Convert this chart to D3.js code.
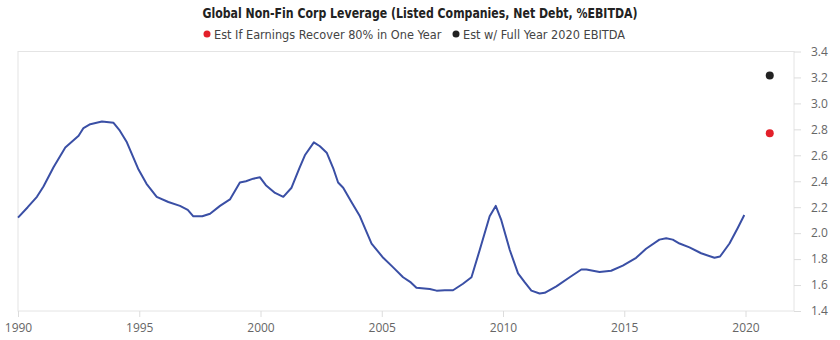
<!DOCTYPE html>
<html><head>
<meta charset="utf-8">
<script src="https://cdn.jsdelivr.net/npm/d3@7"></script>
<style>
  body { margin: 0; background: #fff; }
  .frame { fill: none; stroke: #e4e4e4; stroke-width: 1; }
  .axis .domain { stroke: none; }
  .axis line { stroke: #dcdcdc; }
  .axis text { font-family: "Open Sans", sans-serif; font-size: 12px; fill: #666; }
  .title { font-family: "Liberation Sans Narrow", "DejaVu Sans Condensed", sans-serif; font-weight: bold; font-size: 13.5px; fill: #222; }
  .legend text { font-family: "Liberation Sans Narrow", "DejaVu Sans Condensed", sans-serif; font-size: 12.6px; fill: #444; }
</style>
</head>
<body>
<svg id="chart" width="840" height="340"></svg>
<script>
// leverage series
const years = [1990.0, 1990.4, 1990.78, 1991.05, 1991.47, 1991.95, 1992.5, 1992.7, 1992.98, 1993.46,
  1993.94, 1994.2, 1994.49, 1994.97, 1995.3, 1995.72, 1996.2, 1996.68, 1997.0, 1997.23,
  1997.6, 1997.92, 1998.33, 1998.74, 1999.15, 1999.4, 1999.7, 1999.98, 2000.22, 2000.6,
  2000.94, 2001.28, 2001.6, 2001.83, 2002.2, 2002.45, 2002.73, 2003.0, 2003.2, 2003.41,
  2003.75, 2004.1, 2004.35, 2004.58, 2005.06, 2005.45, 2005.88, 2006.2, 2006.43, 2006.98,
  2007.26, 2007.6, 2007.94, 2008.35, 2008.7, 2009.04, 2009.45, 2009.7, 2009.93, 2010.28,
  2010.62, 2010.9, 2011.17, 2011.51, 2011.72, 2012.2, 2012.75, 2013.23, 2013.44, 2013.98,
  2014.46, 2014.94, 2015.49, 2015.9, 2016.45, 2016.73, 2017.0, 2017.28, 2017.69, 2018.17,
  2018.72, 2018.95, 2019.34, 2019.68, 2019.95];
const leverage = [2.12, 2.20, 2.28, 2.36, 2.51, 2.66, 2.75, 2.81, 2.84, 2.86,
  2.85, 2.79, 2.70, 2.49, 2.38, 2.28, 2.24, 2.21, 2.18, 2.13,
  2.13, 2.15, 2.21, 2.26, 2.39, 2.40, 2.42, 2.43, 2.37, 2.31,
  2.28, 2.35, 2.50, 2.60, 2.70, 2.67, 2.62, 2.50, 2.39, 2.35,
  2.24, 2.13, 2.02, 1.92, 1.81, 1.74, 1.66, 1.62, 1.58, 1.57,
  1.557, 1.56, 1.56, 1.61, 1.66, 1.87, 2.13, 2.21, 2.10, 1.87,
  1.69, 1.62, 1.557, 1.535, 1.54, 1.59, 1.66, 1.72, 1.72, 1.70,
  1.71, 1.75, 1.81, 1.88, 1.95, 1.96, 1.95, 1.92, 1.89, 1.845,
  1.81, 1.82, 1.92, 2.04, 2.14];

// 2021 estimates
const estLabels = ["Est If Earnings Recover 80% in One Year", "Est w/ Full Year 2020 EBITDA"];
const estYears = [2021, 2021];
const estValues = [2.77, 3.215];
const estColors = ["#e3202a", "#222222"];

const xTicks = [1990, 1995, 2000, 2005, 2010, 2015, 2020];
const yTicks = [1.4, 1.6, 1.8, 2.0, 2.2, 2.4, 2.6, 2.8, 3.0, 3.2, 3.4];

const titleText = "Global Non-Fin Corp Leverage (Listed Companies, Net Debt, %EBITDA)";

let svg = d3.select("#chart");
let margin = { top: 51.5, right: 46, bottom: 29, left: 18 };
let width = +svg.attr("width");
let height = +svg.attr("height");

const x = d3.scaleLinear().domain([1990, 2022]).range([margin.left, width - margin.right]);
const y = d3.scaleLinear().domain([1.4, 3.4]).range([height - margin.bottom, margin.top]);

// frame
svg.append("rect").attr("class", "frame")
  .attr("x", margin.left).attr("y", margin.top)
  .attr("width", width - margin.right - margin.left)
  .attr("height", height - margin.bottom - margin.top);

// axes
svg.append("g").attr("class", "axis")
  .attr("transform", "translate(0," + (height - margin.bottom) + ")")
  .call(d3.axisBottom(x).tickValues(xTicks).tickFormat(d3.format("d")).tickSize(6).tickPadding(6));

svg.append("g").attr("class", "axis")
  .attr("transform", "translate(" + (width - margin.right) + ",0)")
  .call(d3.axisRight(y).tickValues(yTicks).tickFormat(d3.format(".1f")).tickSize(7).tickPadding(10));

// line
const series = years.map((yr, i) => ({ year: yr, value: leverage[i] }));
const line = d3.line().x(d => x(d.year)).y(d => y(d.value));
svg.append("path").datum(series)
  .attr("d", line)
  .attr("fill", "none")
  .attr("stroke", "#3a4fa5")
  .attr("stroke-width", 2)
  .attr("stroke-linejoin", "round");

// estimate dots
svg.selectAll("circle.est").data(estValues).enter().append("circle")
  .attr("class", "est")
  .attr("cx", (d, i) => x(estYears[i]))
  .attr("cy", d => y(d))
  .attr("r", 4)
  .attr("fill", (d, i) => estColors[i]);

// title
svg.append("text").attr("class", "title")
  .attr("x", 420).attr("y", 18)
  .attr("text-anchor", "middle")
  .attr("textLength", 435)
  .attr("lengthAdjust", "spacingAndGlyphs")
  .text(titleText);

// legend
let legend = svg.append("g").attr("class", "legend");
let legendX = [207, 456];
estLabels.forEach((lab, i) => {
  legend.append("circle").attr("cx", legendX[i]).attr("cy", 34).attr("r", 3.5).attr("fill", estColors[i]);
  legend.append("text").attr("x", legendX[i] + 7).attr("y", 38.5).text(lab);
});
</script>
</body>
</html>
